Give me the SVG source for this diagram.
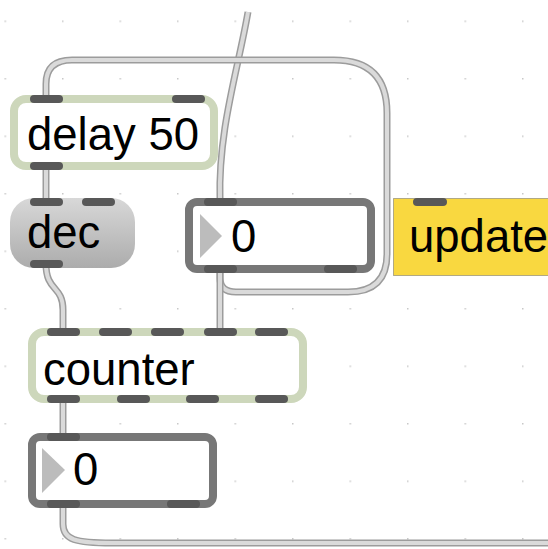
<svg xmlns="http://www.w3.org/2000/svg" width="548" height="549" viewBox="0 0 548 549">
<defs>
<pattern id="grid" x="4.5" y="20.5" width="57.5" height="57.5" patternUnits="userSpaceOnUse">
<rect x="0" y="0" width="1.5" height="1.5" fill="#c8c8c8"/>
</pattern>
<linearGradient id="decg" x1="0" y1="0" x2="0" y2="1">
<stop offset="0" stop-color="#d8d8d8"/>
<stop offset="1" stop-color="#acacac"/>
</linearGradient>
</defs>
<style>
.t{font-family:"Liberation Sans",Arial,sans-serif;font-size:45.5px;fill:#000}
.port{fill:#585858}
.obj{fill:#fff;stroke:#cdd7bb;stroke-width:8}
.num{fill:#fff;stroke:#777;stroke-width:8}
.tri{fill:#bcbcbc}
.wo{fill:none;stroke:#9c9c9c;stroke-width:7;stroke-linecap:butt}
.wi{fill:none;stroke:#dadada;stroke-width:4;stroke-linecap:butt}
</style>
<rect width="548" height="549" fill="#fff"/>
<rect width="548" height="549" fill="url(#grid)"/>

<g id="connectors">
<path class="wo" d="M248 12 C238 70 218 130 220 200"/>
<path class="wi" d="M248 12 C238 70 218 130 220 200"/>
<path class="wo" d="M220 271 L220 278 Q220 292 236 292 L348 292 Q387 292 387 254 L387 113 Q387 60 334 60 L72 60 Q46 60 46 84 L46 97"/>
<path class="wi" d="M220 271 L220 278 Q220 292 236 292 L348 292 Q387 292 387 254 L387 113 Q387 60 334 60 L72 60 Q46 60 46 84 L46 97"/>
<path class="wo" d="M220 271 L220 330"/>
<path class="wi" d="M220 271 L220 330"/>
<path class="wo" d="M46 166 L46 200"/>
<path class="wi" d="M46 166 L46 200"/>
<path class="wo" d="M46 264 C46 292 63 285 63 310 L63 330"/>
<path class="wi" d="M46 264 C46 292 63 285 63 310 L63 330"/>
<path class="wo" d="M63 401 L63 435"/>
<path class="wi" d="M63 401 L63 435"/>
<path class="wo" d="M63 506 L63 524 C63 540 76 543 112 543 L560 543"/>
<path class="wi" d="M63 506 L63 524 C63 540 76 543 112 543 L560 543"/>
</g>

<g id="delay">
<rect class="obj" x="14" y="99" width="200" height="67" rx="12"/>
<text class="t" x="27" y="150">delay 50</text>
<rect class="port" x="30" y="95" width="33" height="8" rx="4"/>
<rect class="port" x="172" y="95" width="33" height="8" rx="4"/>
<rect class="port" x="30" y="162" width="33" height="8" rx="4"/>
</g>

<g id="dec">
<rect x="10" y="198" width="125" height="70" rx="24" fill="url(#decg)"/>
<text class="t" x="27" y="248">dec</text>
<rect class="port" x="30" y="198" width="33" height="8" rx="4"/>
<rect class="port" x="82" y="198" width="33" height="8" rx="4"/>
<rect class="port" x="30" y="260" width="33" height="8" rx="4"/>
</g>

<g id="number1">
<rect class="num" x="189" y="202" width="182" height="67" rx="8"/>
<polygon class="tri" points="200,214 222,236 200,258"/>
<text class="t" x="231" y="252">0</text>
<rect class="port" x="204" y="198" width="33" height="8" rx="4"/>
<rect class="port" x="204" y="265" width="33" height="8" rx="4"/>
<rect class="port" x="324" y="265" width="33" height="8" rx="4"/>
</g>

<g id="update">
<rect x="393.5" y="198.5" width="170" height="77" fill="#f9d840" stroke="#666" stroke-width="1" stroke-dasharray="1 1"/>
<text class="t" x="409" y="252">update</text>
<rect class="port" x="413" y="198" width="34" height="8" rx="4"/>
</g>

<g id="counter">
<rect class="obj" x="32" y="332" width="271" height="67" rx="12"/>
<text class="t" x="43" y="385">counter</text>
<rect class="port" x="47" y="328" width="33" height="8" rx="4"/>
<rect class="port" x="99" y="328" width="33" height="8" rx="4"/>
<rect class="port" x="151" y="328" width="33" height="8" rx="4"/>
<rect class="port" x="204" y="328" width="33" height="8" rx="4"/>
<rect class="port" x="255" y="328" width="33" height="8" rx="4"/>
<rect class="port" x="47" y="395" width="33" height="8" rx="4"/>
<rect class="port" x="117" y="395" width="33" height="8" rx="4"/>
<rect class="port" x="186" y="395" width="33" height="8" rx="4"/>
<rect class="port" x="255" y="395" width="33" height="8" rx="4"/>
</g>

<g id="number2">
<rect class="num" x="32" y="437" width="181" height="67" rx="8"/>
<polygon class="tri" points="42,448 65,470 42,493"/>
<text class="t" x="73" y="485">0</text>
<rect class="port" x="47" y="433" width="33" height="8" rx="4"/>
<rect class="port" x="47" y="500" width="33" height="8" rx="4"/>
<rect class="port" x="167" y="500" width="33" height="8" rx="4"/>
</g>
</svg>
